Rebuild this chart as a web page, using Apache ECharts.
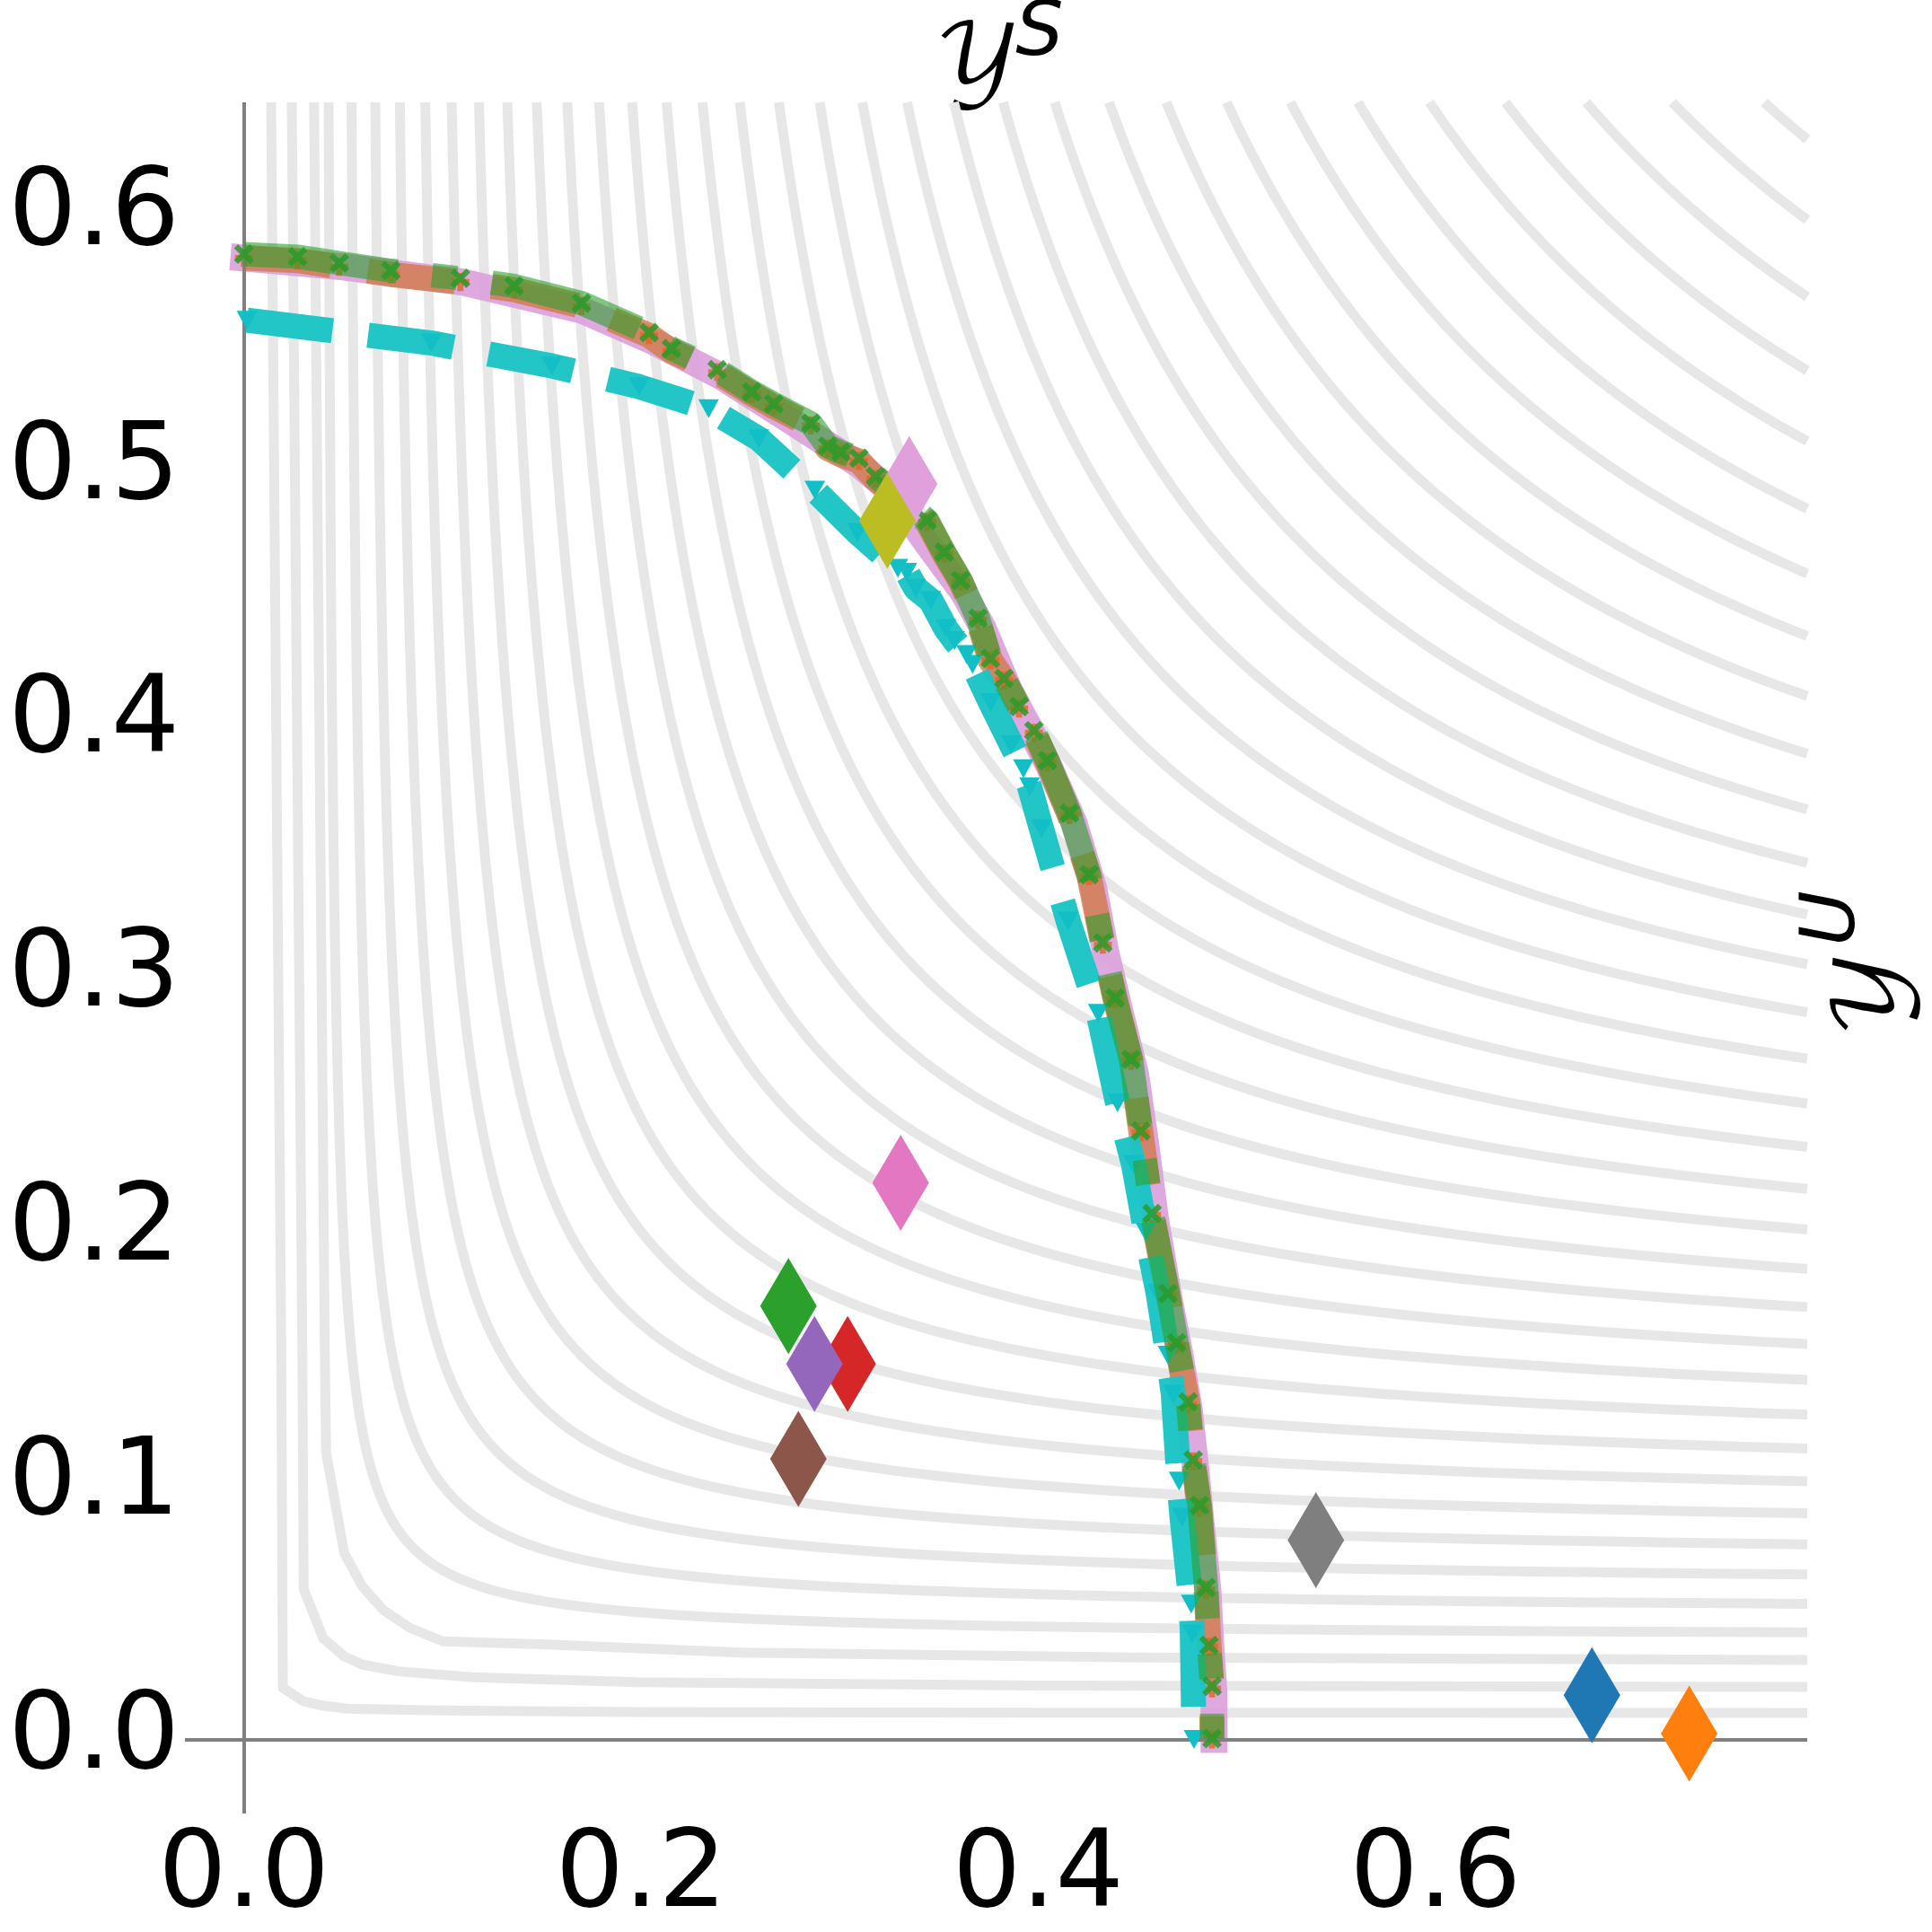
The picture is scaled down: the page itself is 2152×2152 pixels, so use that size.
<!DOCTYPE html>
<html>
<head>
<meta charset="utf-8">
<script src="https://cdn.jsdelivr.net/npm/echarts@6.0.0/dist/echarts.min.js"></script>
<style>
  html, body { margin: 0; padding: 0; background: #fff; }
  #chart { width: 2152px; height: 2152px; }
</style>
</head>
<body>
<div id="chart"></div>
<script>
// the three innermost background contours, read point by point (they are
// coarser near the axes than the smooth ones further out)
var innerContour1 = [[0.0137, 0.6448], [0.0188, 0.1547], [0.0196, 0.0203], [0.0301, 0.0150],
                     [0.0399, 0.0133], [0.0520, 0.0121], [0.10, 0.0114], [0.1981, 0.0108],
                     [0.40, 0.0105], [0.7872, 0.0104]];
var innerContour2 = [[0.0241, 0.6448], [0.0294, 0.1547], [0.0301, 0.0592], [0.0399, 0.0398],
                     [0.0505, 0.0327], [0.0595, 0.0295], [0.0776, 0.0268], [0.1153, 0.0245],
                     [0.1981, 0.0225], [0.40, 0.0212], [0.7872, 0.0207]];
var innerContour3 = [[0.0353, 0.6448], [0.0407, 0.1547], [0.0414, 0.1129], [0.0505, 0.0734],
                     [0.0595, 0.0604], [0.0701, 0.0510], [0.0836, 0.0439], [0.1002, 0.0386],
                     [0.15, 0.0375], [0.25, 0.0342], [0.45, 0.0322], [0.7872, 0.0313]];

// remaining background level sets, one per value
var contourLevels = [0.04, 0.05, 0.06, 0.07, 0.08, 0.09, 0.10,
                     0.11, 0.12, 0.13, 0.14, 0.15, 0.16, 0.17, 0.18, 0.19, 0.20,
                     0.21, 0.22, 0.23, 0.24, 0.25, 0.26, 0.27, 0.28, 0.29, 0.30,
                     0.31, 0.32, 0.33, 0.34, 0.35];

// front, green dash-dot with x markers
var greenPts = [
  [0.0, 0.585], [0.027, 0.584], [0.048, 0.5815], [0.074, 0.5785], [0.109, 0.5755],
  [0.136, 0.5725], [0.170, 0.5657], [0.204, 0.5541], [0.2153, 0.5478], [0.2383, 0.5395],
  [0.2557, 0.5308], [0.2668, 0.526], [0.2855, 0.5183], [0.2939, 0.5094], [0.3006, 0.507],
  [0.3097, 0.5046], [0.318, 0.4975], [0.344, 0.4802], [0.3526, 0.4676], [0.3609, 0.4565],
  [0.3696, 0.4416], [0.3759, 0.4257], [0.3827, 0.4179], [0.3903, 0.4068], [0.3978, 0.3973],
  [0.4046, 0.3855], [0.4157, 0.3648], [0.4256, 0.3406], [0.4325, 0.3137], [0.4387, 0.292],
  [0.4467, 0.2678], [0.4517, 0.2396], [0.4573, 0.2071], [0.4653, 0.1756], [0.4697, 0.1562],
  [0.4754, 0.1329], [0.478, 0.110], [0.4812, 0.0922], [0.4845, 0.0598], [0.486, 0.037],
  [0.4875, 0.0209], [0.4875, 0.0003]
];

// orange dashed with plus markers (sits just under the green one)
var orangePts = [
  [0.0, 0.5835], [0.027, 0.5825], [0.048, 0.580], [0.074, 0.577], [0.109, 0.574],
  [0.136, 0.571], [0.170, 0.5645], [0.204, 0.553], [0.2153, 0.5468], [0.2383, 0.5385],
  [0.2557, 0.530], [0.2668, 0.525], [0.2855, 0.5175], [0.2939, 0.5085], [0.3006, 0.506],
  [0.3097, 0.5035], [0.318, 0.4965], [0.344, 0.4795], [0.3526, 0.467], [0.3609, 0.456],
  [0.3696, 0.441], [0.3759, 0.425], [0.3827, 0.4172], [0.3903, 0.406], [0.3978, 0.3965],
  [0.4046, 0.385], [0.4157, 0.364], [0.4256, 0.340], [0.4325, 0.313], [0.4387, 0.2915],
  [0.4467, 0.2672], [0.4517, 0.239], [0.4573, 0.2065], [0.4653, 0.175], [0.4697, 0.1555],
  [0.4754, 0.132], [0.478, 0.1095], [0.4812, 0.0915], [0.4845, 0.059], [0.486, 0.0365],
  [0.4875, 0.020], [0.4875, 0.0]
];

// wide pink solid line under the front
var pinkPts = [
  [0.0, 0.5835], [0.05, 0.580], [0.11, 0.574], [0.17, 0.563], [0.205, 0.551],
  [0.24, 0.537], [0.268, 0.523], [0.29, 0.512], [0.31, 0.502], [0.325, 0.492],
  [0.345, 0.470], [0.362, 0.452], [0.372, 0.438], [0.385, 0.414], [0.405, 0.384],
  [0.418, 0.361], [0.428, 0.335], [0.434, 0.310], [0.441, 0.287], [0.449, 0.262],
  [0.454, 0.235], [0.459, 0.205], [0.466, 0.173], [0.471, 0.153], [0.476, 0.130],
  [0.4795, 0.105], [0.482, 0.085], [0.4855, 0.058], [0.487, 0.035], [0.4885, 0.018],
  [0.4885, 0.0]
];

// cyan dashed with triangle markers
var cyanPts = [
  [0.0015, 0.559], [0.0944, 0.550], [0.155, 0.541], [0.199, 0.5328], [0.234, 0.5241],
  [0.2593, 0.5123], [0.2875, 0.492], [0.309, 0.4753], [0.3293, 0.4613], [0.3338, 0.4597],
  [0.3383, 0.4534], [0.3459, 0.4486], [0.3534, 0.4376], [0.3579, 0.4328], [0.3639, 0.4273],
  [0.3669, 0.4234], [0.376, 0.4084], [0.3865, 0.3918], [0.3925, 0.3823], [0.3956, 0.3752],
  [0.4016, 0.3587], [0.4151, 0.3223], [0.4302, 0.286], [0.4399, 0.2508], [0.448, 0.2265],
  [0.4542, 0.1998], [0.4604, 0.1756], [0.4653, 0.1513], [0.468, 0.136], [0.4709, 0.1017],
  [0.4724, 0.0875], [0.477, 0.0533], [0.4776, 0.0415], [0.4784, 0.0]
];

// single solutions, drawn as thin diamonds
var diamondX = [0.335, 0.6788, 0.7278, 0.2742, 0.3040, 0.2873, 0.2792, 0.3307, 0.5398, 0.324];
var diamondY = [0.4944, 0.0174, 0.0023, 0.1707, 0.1479, 0.1479, 0.1105, 0.2192, 0.0785, 0.480];
var diamondColors = ['#dfa0dc', '#1f77b4', '#ff7f0e', '#2ca02c', '#d62728',
                     '#9467bd', '#8c564b', '#e377c2', '#7f7f7f', '#bcbd22'];

var xTicks = [0, 0.2, 0.4, 0.6];
var yTicks = [0, 0.1, 0.2, 0.3, 0.4, 0.5, 0.6];

var X_MIN = -0.0297, X_MAX = 0.7872;
var Y_MIN = -0.0292, Y_MAX = 0.6448;

// level set of 1/x + 1/y = 1/L, i.e. (x-L)(y-L) = L^2, inside the plot box
function levelCurve(L) {
  var pts = [];
  var tMin = L * L / (Y_MAX - L), tMax = X_MAX - L;
  var n = 90;
  for (var i = 0; i <= n; i++) {
    var t = tMin * Math.pow(tMax / tMin, i / n);
    pts.push([L + t, L + L * L / t]);
  }
  return pts;
}

var X_PATH = 'path://M0,2L2,0L5,3L8,0L10,2L7,5L10,8L8,10L5,7L2,10L0,8L3,5Z';
var P_PATH = 'path://M3.3,0H6.7V3.3H10V6.7H6.7V10H3.3V6.7H0V3.3H3.3Z';

var contourCurves = [innerContour1, innerContour2, innerContour3]
  .concat(contourLevels.map(levelCurve));

var series = [];
contourCurves.forEach(function (pts, i) {
  var s = {
    type: 'line',
    data: pts,
    symbol: 'none',
    silent: true,
    z: 1,
    lineStyle: { color: '#e7e7e7', width: 11, join: 'round' }
  };
  if (i === contourCurves.length - 1) {
    s.markLine = {
      symbol: ['none', 'none'],
      silent: true,
      label: { show: false },
      lineStyle: { color: '#808080', width: 4, type: 'solid', opacity: 1 },
      data: [{ yAxis: 0 }, { xAxis: 0 }]
    };
  }
  series.push(s);
});

series.push({
  type: 'line',
  data: pinkPts,
  symbol: 'none',
  z: 3,
  lineStyle: { color: '#dc9edb', opacity: 0.9, width: 30, cap: 'square', join: 'round' }
});
series.push({
  type: 'line',
  data: orangePts,
  symbol: P_PATH,
  symbolSize: 20,
  z: 4,
  itemStyle: { color: '#e0671e', opacity: 0.8, borderWidth: 0 },
  lineStyle: { color: '#d0773f', opacity: 0.75, width: 28, type: [98, 41], join: 'round' }
});
series.push({
  type: 'line',
  data: cyanPts,
  symbol: 'triangle',
  symbolRotate: 180,
  symbolSize: [23, 21],
  z: 5,
  itemStyle: { color: '#12bfc6', opacity: 1, borderWidth: 0 },
  lineStyle: { color: '#1bc4c4', opacity: 0.97, width: 28, type: [96, 40], join: 'round' }
});
series.push({
  type: 'line',
  data: greenPts,
  symbol: X_PATH,
  symbolSize: 22,
  z: 6,
  itemStyle: { color: '#2a9a2a', opacity: 0.85, borderWidth: 0 },
  lineStyle: { color: '#2ca02c', opacity: 0.6, width: 27, type: [172, 39, 28, 39], join: 'round' }
});
series.push({
  type: 'scatter',
  symbol: 'diamond',
  symbolSize: [63, 107],
  z: 7,
  itemStyle: { opacity: 1 },
  data: diamondX.map(function (x, i) {
    return { value: [x, diamondY[i]], itemStyle: { color: diamondColors[i], opacity: 1 } };
  })
});

var tickFont = { fontSize: 120, fontFamily: 'DejaVu Sans', color: '#000', lineHeight: 120 };
var calFont = '98px "DejaVu Math TeX Gyre", "DejaVu Serif", serif';
var supFont = 'italic 84px "DejaVu Sans"';

var chart = echarts.init(document.getElementById('chart'), null, { renderer: 'canvas' });
chart.setOption({
  animation: false,
  backgroundColor: '#fff',
  grid: { left: 206, right: 139, top: 114, bottom: 132 },
  xAxis: {
    type: 'value', min: X_MIN, max: X_MAX,
    axisLine: { show: false }, axisTick: { show: false }, splitLine: { show: false },
    axisLabel: Object.assign({ customValues: xTicks, margin: 12,
      formatter: function (v) { return v.toFixed(1); } }, tickFont)
  },
  yAxis: {
    type: 'value', min: Y_MIN, max: Y_MAX,
    axisLine: { show: false }, axisTick: { show: false }, splitLine: { show: false },
    axisLabel: Object.assign({ customValues: yTicks, margin: 6, padding: [14, 0, 0, 0],
      formatter: function (v) { return v.toFixed(1); } }, tickFont)
  },
  graphic: [
    { type: 'text', x: 1089, y: 68, z: 0, style: { text: '𝒴', font: calFont, fill: '#000', align: 'center', verticalAlign: 'middle' } },
    { type: 'text', x: 1158, y: 39, z: 0, style: { text: 'S', font: supFont, fill: '#000', align: 'center', verticalAlign: 'middle' } },
    { type: 'group', x: 2074, y: 1067, rotation: Math.PI / 2, children: [
      { type: 'text', x: -40, y: 10, style: { text: '𝒴', font: calFont, fill: '#000', align: 'center', verticalAlign: 'middle' } },
      { type: 'text', x: 44, y: -31, style: { text: 'U', font: supFont, fill: '#000', align: 'center', verticalAlign: 'middle' } }
    ] }
  ],
  series: series
});
</script>
</body>
</html>
